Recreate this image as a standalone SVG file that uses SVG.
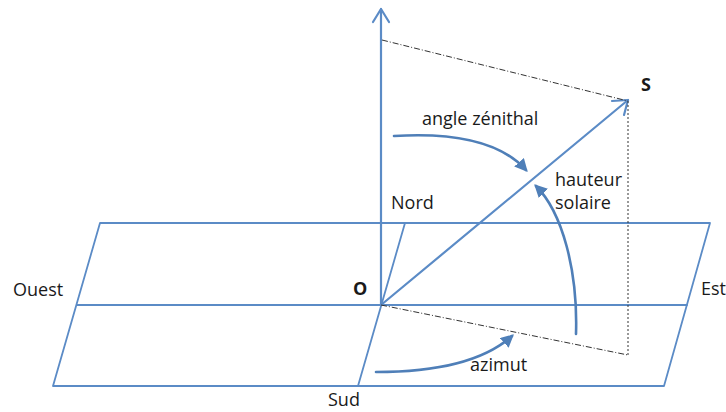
<svg xmlns="http://www.w3.org/2000/svg" width="726" height="412" viewBox="0 0 726 412">
<defs>
<style>
.ln{fill:none;stroke:#5b8bc6;stroke-width:1.8;stroke-linecap:round;stroke-linejoin:round}
.ax{fill:none;stroke:#5b8bc6;stroke-width:2.2;stroke-linecap:round;stroke-linejoin:round}
.cv{fill:none;stroke:#4f7fb8;stroke-width:2.6;stroke-linecap:round}
.dd{fill:none;stroke:#333;stroke-width:1;stroke-dasharray:6 2 1 2}
.dt{fill:none;stroke:#333;stroke-width:1;stroke-dasharray:2 2}
text{font-family:"Open Sans","Liberation Sans",Arial,sans-serif;font-size:18px;fill:#1a1a1a}
.b{font-weight:bold}
</style>
<marker id="ah" viewBox="0 0 10 10" refX="8" refY="5" markerWidth="5" markerHeight="5" orient="auto" markerUnits="strokeWidth">
<path d="M0,0 L10,5 L0,10 Z" fill="#4f7fb8"/>
</marker>
</defs>
<g id="plan">
<polygon class="ln" points="100,223 710,223 664,386 53,386"/>
<line class="ln" x1="77" y1="305" x2="687" y2="305"/>
<line class="ln" x1="405" y1="223" x2="358" y2="386"/>
</g>
<g id="connectors">
<line class="ax" x1="381" y1="305" x2="381" y2="9"/>
<polyline class="ax" points="373,22 381,9 389,22"/>
<line class="ax" x1="381" y1="305" x2="628" y2="100"/>
<polyline class="ax" points="612,101 628,100 624,115"/>
<line class="dd" x1="382" y1="40" x2="628" y2="101"/>
<line class="dt" x1="628" y1="101" x2="628" y2="355"/>
<line class="dd" x1="381" y1="305" x2="628" y2="355"/>
<path class="cv" d="M394,136 Q490,130 526,170" marker-end="url(#ah)"/>
<path class="cv" d="M576,334 C578,270 562,212 536,186" marker-end="url(#ah)"/>
<path class="cv" d="M376,372 Q472,372 512,336" marker-end="url(#ah)"/>
</g>
<g id="label-zenith"><text x="422" y="125">angle zénithal</text></g>
<g id="label-S"><text class="b" x="641" y="91">S</text></g>
<g id="label-hauteur"><text x="555" y="186">hauteur</text><text x="555" y="209">solaire</text></g>
<g id="label-nord"><text x="391" y="209">Nord</text></g>
<g id="label-ouest"><text x="13" y="296">Ouest</text></g>
<g id="label-O"><text class="b" x="353" y="295">O</text></g>
<g id="label-est"><text x="701" y="295">Est</text></g>
<g id="label-azimut"><text x="470" y="371">azimut</text></g>
<g id="label-sud"><text x="328" y="406">Sud</text></g>
</svg>
